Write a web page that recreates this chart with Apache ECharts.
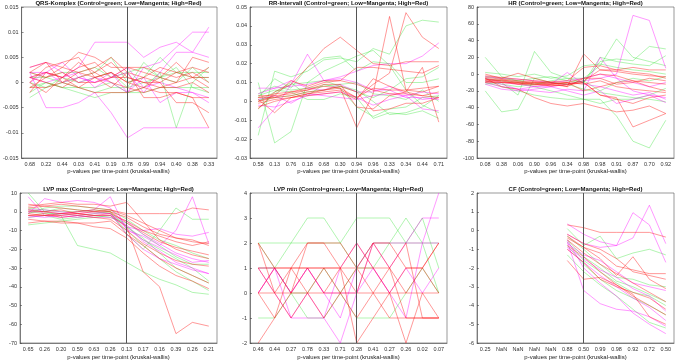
<!DOCTYPE html>
<html><head><meta charset="utf-8">
<script src="https://cdn.jsdelivr.net/npm/echarts@6/dist/echarts.min.js"></script>
<style>html,body{margin:0;padding:0;background:#fff}#c{width:676px;height:360px}</style>
</head><body><div id="c"></div>
<script>
// ---------- categories (p-values per time-point) ----------
const qrsCats = ['0.68','0.22','0.44','0.03','0.41','0.19','0.78','0.99','0.94','0.40','0.38','0.33'];
const rrCats = ['0.58','0.13','0.76','0.18','0.68','0.30','0.94','0.96','0.33','0.34','0.44','0.71'];
const hrCats = ['0.08','0.38','0.06','0.90','0.96','0.34','0.98','0.98','0.91','0.87','0.70','0.92'];
const lvpMaxCats = ['0.65','0.26','0.20','0.59','0.63','0.26','0.13','0.17','0.16','0.39','0.26','0.21'];
const lvpMinCats = ['0.46','0.44','0.27','0.78','0.33','0.71','0.28','0.41','0.27','0.26','0.02','0.07'];
const cfCats = ['0.25','NaN','NaN','NaN','NaN','0.88','0.50','0.99','0.98','0.92','0.72','0.50'];

// ---------- QRS-Komplex ----------
const qrsGreen = [
 [-0.003,-0.001,0.000,-0.001,-0.002,-0.001,-0.001,0.004,0.001,0.002,0.001,0.001],
 [-0.002,0.000,-0.001,-0.002,-0.003,-0.002,-0.002,-0.001,0.002,-0.009,0.000,0.003],
 [0.001,0.001,0.000,0.001,0.002,0.005,0.000,0.001,0.005,0.002,0.002,0.002],
 [0.000,-0.001,0.001,0.000,0.001,0.002,-0.001,0.000,0.001,0.003,-0.001,-0.002],
 [0.002,0.001,0.002,0.002,0.003,0.001,0.002,0.003,0.001,0.000,0.003,0.000],
 [-0.001,0.000,-0.001,-0.001,-0.001,0.000,-0.002,-0.002,-0.001,-0.001,-0.001,-0.001]
];
const qrsMagenta = [
 [0.002,0.002,0.001,0.003,0.008,0.008,0.008,0.005,0.007,0.008,0.006,0.011],
 [0.002,-0.005,-0.005,-0.004,-0.002,-0.006,-0.011,-0.009,-0.009,-0.009,-0.009,-0.009],
 [0.000,0.002,0.004,0.001,0.000,0.002,-0.002,0.003,0.004,0.007,0.010,0.010],
 [0.001,0.000,0.001,0.002,-0.001,0.001,0.002,-0.002,0.002,0.006,0.006,0.005],
 [0.003,0.004,0.002,0.000,0.001,0.000,-0.002,0.001,-0.004,-0.002,-0.002,-0.004],
 [0.001,0.002,0.000,0.001,0.000,0.001,0.003,-0.001,0.000,-0.001,-0.002,-0.003]
];
const qrsRed = [
 [0.003,0.004,0.003,0.006,0.005,0.003,0.003,0.002,0.001,0.004,0.001,0.001],
 [-0.002,0.002,0.001,0.004,0.002,0.004,0.001,0.000,-0.001,0.000,0.005,0.004],
 [0.002,0.004,0.000,0.002,0.003,0.005,0.002,-0.003,-0.003,-0.002,-0.003,-0.009],
 [0.000,0.003,0.004,0.005,0.001,0.002,0.000,0.001,0.000,-0.004,-0.004,-0.006],
 [0.001,0.000,-0.001,0.001,0.002,0.000,-0.001,-0.002,-0.001,-0.001,0.000,-0.002],
 [-0.001,0.001,0.002,0.000,0.000,0.001,0.003,0.003,0.002,0.001,0.002,0.000],
 [0.002,0.001,0.003,0.002,0.001,0.002,0.000,-0.001,-0.002,-0.002,-0.003,-0.003],
 [0.000,-0.002,0.001,0.003,0.004,0.001,0.001,0.000,0.000,0.002,0.001,-0.001],
 [0.001,0.002,0.001,-0.001,0.001,-0.001,0.002,0.001,0.003,0.002,0.003,0.002],
 [-0.001,-0.001,0.000,-0.001,-0.002,-0.002,-0.002,-0.001,0.001,0.000,0.001,0.003]
];

// ---------- RR-Intervall ----------
const rrGreen = [
 [-0.018,0.016,0.013,0.016,0.022,0.023,0.021,0.028,0.025,0.040,0.043,0.042],
 [0.010,-0.022,-0.016,0.010,0.011,0.008,0.005,0.002,0.006,0.012,0.013,0.018],
 [0.002,0.012,0.007,0.018,0.023,0.024,0.016,0.021,0.020,0.010,0.010,0.012],
 [-0.004,0.004,0.009,0.010,0.016,0.020,0.024,0.027,0.019,0.006,-0.002,-0.006],
 [0.003,0.006,0.005,0.001,0.001,0.004,0.002,-0.009,-0.006,-0.007,-0.005,-0.009],
 [0.001,0.002,0.003,0.005,0.006,0.008,0.006,0.000,-0.007,-0.006,-0.003,0.003],
 [0.004,0.008,0.006,0.007,0.008,0.009,0.010,0.004,0.003,0.001,0.006,0.000],
 [0.000,0.005,0.010,0.003,0.009,0.007,-0.003,-0.008,-0.004,-0.003,0.002,0.003]
];
const rrMagenta = [
 [-0.014,-0.004,0.009,0.025,0.011,0.013,0.016,0.019,0.020,0.020,0.024,0.031],
 [0.004,0.007,0.011,0.007,0.006,0.009,0.005,0.005,0.008,0.004,0.001,0.002],
 [-0.002,-0.003,0.000,0.003,0.004,0.005,0.002,-0.002,0.001,0.003,-0.004,-0.005],
 [0.007,0.007,0.008,0.009,0.011,0.012,0.010,0.006,0.006,0.002,0.002,0.001],
 [0.001,0.003,-0.001,0.004,0.003,0.002,0.001,0.003,0.004,0.003,0.005,0.004]
];
const rrRed = [
 [-0.004,0.005,0.009,0.018,0.028,0.034,0.027,0.020,0.019,0.021,0.021,0.021],
 [0.002,0.002,0.005,0.006,0.008,0.007,-0.014,0.004,0.045,0.006,0.005,0.008],
 [0.001,-0.006,0.002,0.004,0.006,0.007,0.002,0.009,0.015,0.047,0.034,0.028],
 [0.000,0.003,0.004,0.006,0.009,0.009,-0.003,-0.004,0.003,0.005,0.018,-0.011],
 [0.003,0.003,0.011,0.008,0.011,0.011,0.018,0.018,0.017,0.016,0.015,0.019],
 [-0.001,0.001,0.002,0.004,0.005,0.006,0.002,0.007,0.006,0.006,0.007,0.008],
 [0.000,0.002,0.003,0.005,0.006,0.008,0.005,-0.005,-0.004,-0.001,-0.001,0.002],
 [0.002,0.004,0.005,0.007,0.010,0.011,0.009,0.006,0.004,0.004,0.003,0.002],
 [-0.003,0.000,0.002,0.003,0.004,0.005,0.001,0.012,0.008,0.005,0.003,0.005]
];

// ---------- HR ----------
const hrGreen = [
 [20,-3,-8,-12,-10,-12,-18,-22,-25,-28,-30,-33],
 [-20,-45,-42,-5,-10,-12,-8,-20,-10,-5,-8,-3],
 [-12,-10,-25,27,2,-5,-5,10,42,20,15,10],
 [-5,-8,-10,-15,-20,-25,-30,-30,-50,-80,-88,-55],
 [-8,-12,-15,-12,-8,-5,-10,15,18,16,33,30],
 [-3,-5,-8,-5,-3,-8,-10,20,15,12,10,22],
 [-10,-15,-20,-25,-28,-30,-30,-35,-30,-30,-25,-17],
 [2,0,-3,0,-5,-2,10,12,8,5,3,0]
];
const hrMagenta = [
 [-5,-10,-12,-15,-15,-12,-8,-5,0,70,64,7],
 [-8,-12,-18,-20,-22,-18,-20,20,-5,-20,-25,-34],
 [-10,-15,-18,-15,-12,2,-12,-15,-20,-25,-22,-30],
 [-3,-5,-6,-8,-10,-8,-5,0,-5,-10,-15,-10],
 [-12,-18,-20,-18,-15,-20,-25,-20,-35,-30,-25,-28]
];
const hrRed = [
 [0,-5,1,-5,-10,-15,24,5,3,0,-2,-3],
 [-5,-15,-18,-28,-35,-38,-35,-40,-45,-43,-38,-47],
 [-8,-10,-10,-12,-14,-12,-10,-25,-28,-63,-55,-47],
 [-6,-8,-12,-10,-10,-12,-8,5,5,8,5,5],
 [-10,-10,-12,-13,-12,-10,-20,-15,-10,-8,-15,-20],
 [-4,-6,-8,-10,-12,-10,-5,0,-2,-8,-10,-12],
 [-7,-9,-11,-12,-14,-13,-10,-25,-30,-35,-28,-25],
 [-2,-4,-6,-8,-9,-8,8,10,5,2,0,-5],
 [-9,-7,-10,-9,-11,-10,-12,-8,-15,-18,-20,-22],
 [-6,-7,-9,-11,-12,-15,-5,-5,-12,-10,-5,-8]
];

// ---------- LVP max ----------
const lvpMaxGreen = [
 [10,0,-2,-18,-20,-22,-27,-32,-36,-39,-43,-44],
 [-7,-6,-5,-4,-3,-2,-10,-18,-25,-32,-37,-42],
 [2,1,0,0,1,0,-12,-20,-10,2,-4,-4],
 [1,0,2,1,0,-1,-8,-15,-20,-25,-30,-37],
 [-3,-2,-4,-3,-2,-3,-6,-12,-18,-24,-28,-28],
 [0,-1,-1,-2,-1,0,-8,-14,-22,-30,-34,-38],
 [-1,2,3,3,2,1,-4,-10,-15,-18,-22,-25]
];
const lvpMaxMagenta = [
 [8,-2,-1,0,1,8,-10,-13,-18,-10,8,-17],
 [-1,7,5,6,5,2,-8,-10,-9,-12,-13,-11],
 [0,0,-1,-2,-1,-1,-12,-20,-25,-28,-31,-33],
 [-2,-3,-2,-3,-2,-2,-5,-12,-17,-22,-25,-27],
 [1,1,0,-1,0,-1,-9,-15,-19,-23,-27,-26],
 [-3,-2,-3,-2,-3,-3,-7,-16,-21,-27,-30,-33]
];
const lvpMaxRed = [
 [3,4,5,4,4,3,5,-5,-15,-20,-23,-25],
 [-2,-2,-1,-1,-2,-2,-8,-32,-40,-65,-59,-61],
 [0,0,1,-1,0,1,-1,-1,-1,-1,2,1],
 [-1,-2,-2,-1,-2,-1,-5,-10,-13,-16,-18,-16],
 [-4,-5,-5,-6,-8,-9,-14,-22,-29,-34,-37,-41],
 [2,3,2,1,0,0,-3,-8,-12,-14,-15,-18],
 [-6,-5,-6,-6,-6,-5,-12,-18,-25,-30,-34,-38],
 [1,0,-1,0,1,0,-6,-11,-16,-19,-21,-23],
 [-2,-1,-3,-2,-3,-4,-10,-17,-22,-26,-28,-29],
 [4,3,4,3,2,1,-2,-6,-10,-14,-16,-17]
];

// ---------- LVP min ----------
const lvpMinGreen = [
 [2,2,2,3,3,2,3,3,3,2,2,0],
 [2,1,2,2,2,2,1,1,2,3,2,2],
 [-1,-1,0,-1,-1,0,1,2,2,2,3,1],
 [1,1,0,0,1,0,-1,-1,-1,0,1,0]
];
const lvpMinMagenta = [
 [1,0,-1,-1,-1,-2,0,2,2,2,2,2],
 [0,1,0,1,0,-1,1,2,1,2,3,3],
 [1,1,0,1,0,0,0,1,0,-1,2,4],
 [0,1,-1,0,-1,1,2,1,0,1,0,1]
];
const lvpMinRed = [
 [-2,-1,0,1,0,1,-2,-1,0,-2,0,-1],
 [2,1,0,2,2,2,1,0,1,2,-1,-1],
 [1,1,1,1,1,1,1,1,0,1,1,2],
 [0,0,0,0,0,0,0,0,0,0,0,0],
 [2,0,1,2,2,1,0,2,2,1,1,0],
 [0,-1,1,0,1,0,-1,0,-1,-1,-1,-1],
 [1,0,-1,0,-1,0,1,2,1,-1,-1,-1],
 [0,1,1,1,1,1,2,1,1,0,1,2]
];

// ---------- CF ----------
const cfGreen = [
 [null,null,null,null,null,0.1,-0.8,-0.3,-1.5,-1.2,-1.0,-1.3],
 [null,null,null,null,null,-0.5,-1.4,-2.0,-2.7,-3.0,-3.4,-3.8],
 [null,null,null,null,null,-0.3,-1.0,-1.8,-2.5,-2.6,-2.9,-3.0],
 [null,null,null,null,null,-0.8,-1.8,-2.6,-3.2,-3.6,-4.0,-4.5],
 [null,null,null,null,null,-1.3,-2.2,-2.9,-3.5,-4.2,-4.9,-5.2],
 [null,null,null,null,null,-0.6,-1.6,-2.2,-2.8,-3.3,-3.5,-4.0]
];
const cfMagenta = [
 [null,null,null,null,null,0.35,-0.2,-0.6,-0.8,0.95,0.3,-1.7],
 [null,null,null,null,null,-0.2,-0.7,-0.9,-0.8,-0.4,1.35,-0.7],
 [null,null,null,null,null,-0.6,-3.2,-3.9,-4.2,-4.3,-4.6,-5.1],
 [null,null,null,null,null,-1.0,-1.7,-2.4,-3.0,-3.6,-4.1,-4.8],
 [null,null,null,null,null,-0.9,-1.5,-2.1,-2.5,-3.1,-3.5,-4.3],
 [null,null,null,null,null,-0.7,-1.3,-1.6,-2.2,-2.8,-3.0,-3.2],
 [null,null,null,null,null,-0.5,-2.0,-2.8,-3.5,-4.4,-5.0,-5.5]
];
const cfRed = [
 [null,null,null,null,null,0.3,0.15,-0.1,-0.1,-0.1,-0.1,-0.35],
 [null,null,null,null,null,-0.3,-0.9,-1.5,-2.4,-1.4,-2.6,-3.1],
 [null,null,null,null,null,-0.8,-1.4,-2.2,-2.9,-3.5,-4.0,-4.5],
 [null,null,null,null,null,-0.5,-1.2,-1.8,-2.3,-2.8,-3.3,-3.8],
 [null,null,null,null,null,-1.6,-2.6,-2.5,-2.9,-3.4,-4.6,-5.0],
 [null,null,null,null,null,-0.4,-0.9,-1.2,-1.9,-2.1,-2.3,-2.3],
 [null,null,null,null,null,-1.0,-1.7,-2.6,-3.0,-3.3,-3.6,-4.2],
 [null,null,null,null,null,-0.2,-0.7,-1.0,-1.5,-2.2,-2.4,-2.6]
];

const titles = [
 'QRS-Komplex (Control=green; Low=Mangenta; High=Red)',
 'RR-Intervall (Control=green; Low=Mangenta; High=Red)',
 'HR (Control=green; Low=Mangenta; High=Red)',
 'LVP max (Control=green; Low=Mangenta; High=Red)',
 'LVP min (Control=green; Low=Mangenta; High=Red)',
 'CF (Control=green; Low=Mangenta; High=Red)'
];
const xName = 'p-values per time-point (kruskal-wallis)';
const yMins = [-0.015, -0.03, -100, -70, -2, -6];
const yMaxs = [0.015, 0.05, 80, 10, 4, 2];
const yIntervals = [0.005, 0.01, 20, 10, 1, 1];
const catsList = [qrsCats, rrCats, hrCats, lvpMaxCats, lvpMinCats, cfCats];
const greens = [qrsGreen, rrGreen, hrGreen, lvpMaxGreen, lvpMinGreen, cfGreen];
const magentas = [qrsMagenta, rrMagenta, hrMagenta, lvpMaxMagenta, lvpMinMagenta, cfMagenta];
const reds = [qrsRed, rrRed, hrRed, lvpMaxRed, lvpMinRed, cfRed];

// layout
const gridLefts = [20, 250, 477, 20, 250, 477];
const gridTops = [7, 7, 7, 193, 193, 193];
const gridW = 197, gridH = 151, gridH2 = 150;

const FONT = 'Liberation Sans, Arial, Helvetica, sans-serif';
const COL_G = 'rgba(40,225,40,0.45)';
const COL_M = 'rgba(255,0,255,0.5)';
const COL_R = 'rgba(255,20,20,0.55)';

const grids = [], xAxes = [], yAxes = [], series = [], graphics = [];
for (let p = 0; p < 6; p++) {
  const h = p < 3 ? gridH : gridH2;
  grids.push({left: gridLefts[p], top: gridTops[p], width: gridW, height: h,
    show: true, borderColor: '#555', borderWidth: 0.6, backgroundColor: '#fff'});
  xAxes.push({type: 'category', gridIndex: p, data: catsList[p], boundaryGap: true,
    axisLine: {onZero: false, lineStyle: {color: '#444', width: 0.6}},
    axisTick: {inside: true, length: 2, alignWithLabel: true, interval: 0, lineStyle: {color: '#444', width: 0.6}},
    axisLabel: {interval: 0, fontSize: 5.5, color: '#333', margin: 3, fontFamily: FONT},
    splitLine: {show: false}});
  yAxes.push({type: 'value', gridIndex: p, min: yMins[p], max: yMaxs[p], interval: yIntervals[p],
    axisLine: {show: true, onZero: false, lineStyle: {color: '#444', width: 0.6}},
    axisTick: {show: true, inside: true, length: 2, lineStyle: {color: '#444', width: 0.6}},
    axisLabel: {fontSize: 5.5, color: '#333', margin: 3, fontFamily: FONT},
    splitLine: {show: false}});
  const groups = [[greens[p], COL_G], [magentas[p], COL_M], [reds[p], COL_R]];
  let first = true;
  groups.forEach(([lines, col]) => {
    lines.forEach(arr => {
      const s = {type: 'line', xAxisIndex: p, yAxisIndex: p, data: arr, showSymbol: false,
        symbol: 'none', connectNulls: false, silent: true,
        lineStyle: {color: col, width: 0.8}, z: 2};
      if (first) {
        s.markLine = {silent: true, symbol: 'none', label: {show: false},
          lineStyle: {color: '#555', width: 1, type: 'solid'}, data: [{xAxis: 6}], z: 5};
        first = false;
      }
      series.push(s);
    });
  });
  const cx = gridLefts[p] + gridW / 2;
  graphics.push({type: 'text', x: cx, y: p < 3 ? 3 : 189,
    style: {text: titles[p], textAlign: 'center', textVerticalAlign: 'middle',
      font: 'bold 6px ' + FONT, fill: '#111'}});
  graphics.push({type: 'text', x: cx, y: p < 3 ? 171 : 357,
    style: {text: xName, textAlign: 'center', textVerticalAlign: 'middle',
      font: '6px ' + FONT, fill: '#222'}});
}

const chart = echarts.init(document.getElementById('c'), null, {renderer: 'canvas'});
chart.setOption({animation: false, backgroundColor: '#fff',
  grid: grids, xAxis: xAxes, yAxis: yAxes, series: series, graphic: graphics});
</script></body></html>
